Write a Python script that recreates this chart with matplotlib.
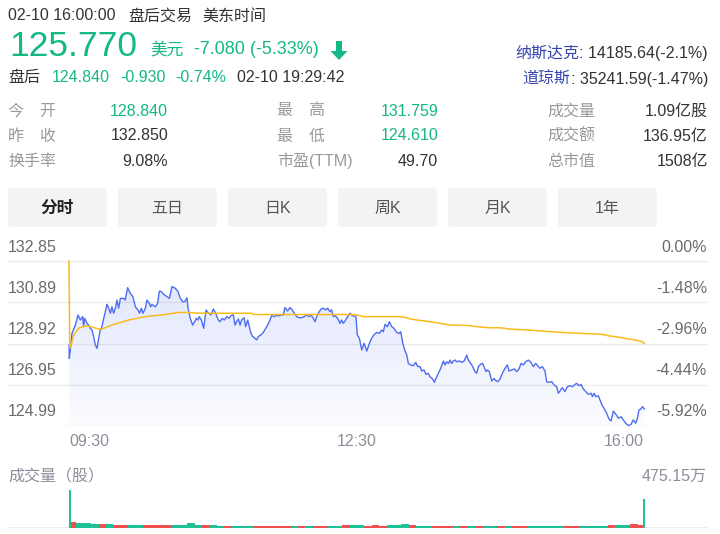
import numpy as np
import matplotlib
matplotlib.use('Agg')
import matplotlib.pyplot as plt
from matplotlib.transforms import Affine2D
from matplotlib.patches import FancyBboxPatch, Polygon

plt.rcParams['font.family'] = ['Liberation Sans', 'Noto Sans CJK SC', 'DejaVu Sans']

# ---------------- data ----------------
prev_close = 132.85
price_ticks = [132.85, 130.89, 128.92, 126.95, 124.99]
pct_ticks = ['0.00%', '-1.48%', '-2.96%', '-4.44%', '-5.92%']
time_labels = ['09:30', '12:30', '16:00']

price_min = [0, 0.2, 0.9, 2.0, 4.3, 6.1, 7.7, 9.3, 9.9, 10.6, 12.2, 13.3, 14.4, 15.6, 16.7, 17.8, 19.0, 20.1, 21.2, 22.3,
             23.5, 24.6, 25.7, 26.9, 28.0, 29.1, 30.2, 31.4, 32.5, 33.6, 34.8, 37.0, 38.1, 39.7, 41.5, 43.3, 44.9, 46.7, 47.8, 49.0,
             50.1, 51.7, 52.8, 54.4, 55.3, 56.2, 57.3, 58.5, 60.0, 61.2, 62.5, 64.1, 66.4, 68.0, 69.7, 72.0, 73.8, 75.4, 77.0, 78.3,
             79.9, 80.6, 82.1, 83.7, 85.1, 86.2, 87.3, 88.2, 89.6, 91.2, 92.8, 94.1,
             96.1, 97.7, 99.3, 101.1, 102.2, 103.8, 105.2, 106.8, 108.3, 109.7, 111.3, 112.4, 113.5, 114.7, 115.8, 116.9, 118.5, 119.6, 121.0, 122.1,
             123.2, 124.4, 125.9, 127.1, 128.2, 130.0, 131.6, 133.2, 134.5, 136.1, 137.2, 139.0, 140.6, 141.7, 143.5, 145.1, 146.2, 148.0, 149.6, 151.2,
             152.6, 154.1, 155.7, 157.5, 159.3, 160.9, 162.5, 163.9, 165.4, 166.6, 167.7, 168.8, 170.6, 172.2, 173.8, 175.1, 176.7, 177.8, 179.0, 180.1,
             181.9, 183.5, 184.6, 185.7, 187.3, 188.7, 190.3, 191.8,
             194.3, 195.2, 196.6, 198.2, 199.8, 201.6, 203.4, 204.9, 206.5, 208.3, 210.1, 211.7, 212.8, 214.0, 215.6, 216.9, 218.5, 220.1, 221.9, 223.7,
             224.6, 225.9, 227.5, 228.6, 229.8, 231.3, 233.2, 234.7, 236.1, 237.7, 238.8, 240.4, 241.7, 243.3, 244.4, 246.2, 247.4, 248.5, 250.1, 251.7,
             253.5, 254.6, 255.7, 256.9, 258.0, 259.1, 260.2, 261.4, 262.5, 264.3, 265.9, 267.5, 269.3, 270.4, 272.0, 273.3, 274.9, 276.0, 277.2, 278.7,
             280.1, 281.2, 282.4, 283.3, 284.6, 286.2, 287.8,
             288.5, 290.3, 291.8, 293.4, 295.2, 296.8, 297.9, 299.7, 301.5, 303.1, 304.7, 306.1, 307.6, 309.2, 311.0, 312.8, 314.4, 316.0, 317.3, 318.9,
             320.5, 322.3, 323.4, 325.0, 326.8, 328.6, 330.2, 331.3, 332.5, 334.0, 335.8, 337.4, 339.2, 340.8, 342.6, 343.7, 345.3, 346.7, 348.3, 349.8,
             351.6, 353.5, 354.4, 355.5, 356.6, 358.4, 359.5, 360.7, 362.5, 364.1, 365.6, 367.0, 368.6, 370.2, 372.0, 373.8, 375.3, 376.9, 378.7, 380.5,
             382.1, 383.7, 385.0, 385.9, 387.3, 388.2, 389.6]
price_val = [128.84, 128.21, 128.61, 129.40, 129.80, 130.28, 130.04, 130.20, 129.72, 130.12, 129.88, 129.80, 129.64, 129.56, 129.25, 128.85, 128.69, 129.17, 129.56, 129.72,
             130.12, 130.44, 130.79, 130.60, 130.36, 130.67, 130.36, 130.60, 130.99, 130.60, 131.07, 131.07, 130.99, 131.58, 131.31, 131.15, 130.67, 130.52, 130.36, 130.60,
             130.36, 130.60, 130.99, 130.83, 130.67, 130.79, 130.72, 130.67, 130.83, 131.42, 131.39, 131.26, 131.15, 131.07, 131.63, 131.55, 131.39, 131.07, 130.91, 130.91,
             131.10, 130.60, 130.12, 129.80, 129.96, 130.12, 130.04, 130.20, 130.04, 129.64, 130.52, 130.40,
             130.28, 130.56, 130.36, 130.04, 129.96, 130.12, 130.04, 130.20, 130.12, 130.25, 130.28, 129.80, 129.96, 130.09, 129.80, 130.04, 130.15, 129.72, 130.04, 129.72,
             129.40, 129.25, 129.17, 129.09, 129.25, 129.33, 129.45, 129.64, 129.80, 130.04, 130.25, 130.20, 130.28, 130.23, 130.28, 130.28, 130.63, 130.47, 130.63, 130.52,
             130.36, 130.20, 130.15, 130.15, 130.20, 130.28, 130.20, 130.28, 130.12, 129.96, 130.20, 130.36, 130.56, 130.60, 130.52, 130.60, 130.44, 130.52, 130.20, 130.25,
             130.12, 129.88, 130.04, 129.88, 130.04, 130.20, 130.36, 130.25,
             130.20, 129.33, 129.17, 128.61, 128.93, 128.56, 128.93, 129.17, 129.33, 129.45, 129.40, 129.56, 129.48, 129.83, 129.72, 129.96, 129.72, 129.64, 129.45, 129.40,
             129.48, 128.97, 128.56, 128.40, 127.97, 127.90, 127.86, 128.02, 127.82, 127.82, 127.61, 127.66, 127.45, 127.50, 127.34, 127.23, 127.07, 127.26, 127.50, 127.74,
             128.09, 127.90, 128.05, 127.97, 128.13, 127.97, 128.09, 128.13, 128.05, 128.09, 128.02, 128.09, 128.37, 128.13, 127.97, 127.82, 127.58, 127.50, 127.82, 127.93,
             127.97, 127.77, 127.58, 127.66, 127.58, 127.13, 127.26,
             127.18, 127.10, 127.23, 127.50, 127.74, 127.90, 127.61, 127.66, 127.71, 127.58, 127.71, 127.97, 127.90, 128.05, 128.13, 128.02, 127.82, 127.97, 127.86, 127.74,
             127.82, 127.61, 127.10, 127.07, 127.10, 126.94, 126.86, 126.55, 126.66, 126.82, 126.63, 126.86, 126.91, 126.86, 126.97, 127.02, 126.91, 126.97, 126.75, 126.63,
             126.50, 126.55, 126.39, 126.55, 126.39, 126.43, 126.23, 126.02, 125.80, 125.59, 125.32, 125.23, 125.70, 125.55, 125.36, 125.43, 125.28, 125.12, 125.01, 125.07,
             125.28, 125.12, 125.39, 125.75, 125.80, 125.91, 125.80]

avg_min = [0, 0.5, 1.5, 3.2, 6.5, 10.0, 13.3, 16.7, 20.1, 22.3, 29.1, 40.4, 51.7, 63.0, 74.3, 81.0, 85.5, 96.4, 123.7, 125.0,
           190.3, 194.8, 199.3, 224.1, 228.6, 230.9, 235.4, 244.4, 251.2, 258.0, 271.5, 276.0, 285.1, 291.8, 295.2, 297.5, 311.0, 326.8, 335.8, 347.1,
           360.7, 365.2, 374.2, 378.7, 383.2, 387.8, 389.6]
avg_val = [132.85, 128.69, 128.85, 129.33, 129.64, 129.75, 129.75, 129.68, 129.61, 129.61, 129.80, 130.04, 130.20, 130.28, 130.40, 130.40, 130.37, 130.36, 130.36, 130.30,
           130.30, 130.28, 130.20, 130.20, 130.15, 130.09, 130.04, 129.96, 129.88, 129.80, 129.77, 129.72, 129.67, 129.67, 129.64, 129.61, 129.56, 129.48, 129.44, 129.40,
           129.36, 129.29, 129.20, 129.13, 129.09, 129.01, 128.93]

# volume (万股): opening minute, closing minute, and 5-minute buckets (per-minute level)
vol_max_label = '475.15万'
vol_first = 475.15
vol_last = 365.0
vol_5min = [70, 65, 60, 55, 55, 50,
            40, 38, 40, 42, 38, 40,
            38, 42, 40, 38, 60, 38, 35,
            32, 28, 30, 26, 28, 30, 25,
            25, 22, 24, 28, 25, 26,
            24, 25, 26, 28, 30, 32, 40, 35,
            30, 32, 30, 35, 32, 50, 35,
            30, 28, 26, 25, 24,
            22, 20, 22, 20, 21, 22, 20, 19, 20, 22, 20, 21, 20, 22, 24, 22, 20, 22, 24, 26, 28,
            35, 38, 40, 45, 42]

stats_labels = [['今\u3000开', '昨\u3000收', '换手率'],
                ['最\u3000高', '最\u3000低', '市盈(TTM)'],
                ['成交量', '成交额', '总市值']]
stats_values = [['128.840', '132.850', '9.08%'],
                ['131.759', '124.610', '49.70'],
                ['1.09亿股', '136.95亿', '1508亿']]
tabs = ['分时', '五日', '日K', '周K', '月K', '1年']

# ---------------- style ----------------
GREEN = '#13b886'
DARK = '#333333'
GRAY = '#999999'
AXGRAY = '#6b6b6b'
BLUE = '#4d6ef0'
YELLOW = '#f8bb1c'
RED_BAR = '#f2504e'
GREEN_BAR = '#1fc196'
GRID = '#ebebeb'

W, H = 720, 534
fig = plt.figure(figsize=(W / 100, H / 100), dpi=100)
fig.patch.set_facecolor('white')
P = Affine2D().scale(1 / W, -1 / H).translate(0, 1) + fig.transFigure


def T(x, y, s, **kw):
    kw.setdefault('va', 'baseline')
    kw.setdefault('fontsize', 11.5)
    kw.setdefault('color', DARK)
    return fig.text(x, y, s, transform=P, **kw)


# header
T(8, 20.5, '02-10 16:00:00')
T(128, 20.5, '盘后交易')
T(202, 20.5, '美东时间')
T(9, 56, '125.770', fontsize=25.5, color=GREEN)
T(150, 54.5, '美元', fontsize=12, color=GREEN)
T(194, 54.5, '-7.080 (-5.33%)', fontsize=13, color=GREEN)
fig.patches.append(Polygon([(336, 41), (342, 41), (342, 51), (347.5, 51), (339, 60), (330.5, 51), (336, 51)],
                           closed=True, transform=P, facecolor=GREEN, edgecolor='none'))
T(8, 82, '盘后')
T(52, 82, '124.840', color=GREEN)
T(120, 82, '-0.930', color=GREEN)
T(175, 82, '-0.74%', color=GREEN)
T(237, 82, '02-10 19:29:42')

renderer = fig.canvas.get_renderer()
for yb, lab, num in [(58, '纳斯达克', ': 14185.64(-2.1%)'), (84, '道琼斯', ': 35241.59(-1.47%)')]:
    t = T(708, yb, num, ha='right')
    bb = t.get_window_extent(renderer)
    T(708 - bb.width, yb, lab, ha='right', color='#3847b0')

# stats
col_lab_x = [8, 277, 547]
col_val_x = [168, 438, 708]
row_y = [115.5, 140.5, 166]
for c in range(3):
    for r in range(3):
        T(col_lab_x[c], row_y[r], stats_labels[c][r], color=GRAY)
        v = stats_values[c][r]
        col = GREEN if (c == 0 and r == 0) or (c == 1 and r < 2) else DARK
        T(col_val_x[c], row_y[r], v, ha='right', color=col)

# tabs
for i, name in enumerate(tabs):
    x0 = 8 + i * 110
    fig.patches.append(FancyBboxPatch((x0 + 3, 191), 93, 33, boxstyle='round,pad=3,rounding_size=4',
                                      transform=P, facecolor='#f2f3f5', edgecolor='none'))
    T(x0 + 49.5, 208, name, ha='center', va='center', fontsize=12 if i == 0 else 11.5,
      fontweight='bold' if i == 0 else 'normal', color='#222222' if i == 0 else '#555555')

# ---------------- price chart ----------------
px_per_min = 576 / 390
x_left = -(69 - 8) / px_per_min
x_right = 390 + (708 - 645) / px_per_min
ax = fig.add_axes([8 / W, 1 - 426 / H, 700 / W, 165 / H])
ax.set_xlim(x_left, x_right)
ax.set_ylim(price_ticks[-1], price_ticks[0])
ax.axis('off')
for pt in price_ticks:
    ax.axhline(pt, color=GRID, lw=1.0, zorder=0)

pm = np.array(price_min)
pv = np.array(price_val)
poly = ax.fill_between(pm, pv, price_ticks[-1], facecolor='none', edgecolor='none')
grad = np.zeros((256, 1, 4))
base = np.array(matplotlib.colors.to_rgb(BLUE))
grad[:, 0, :3] = base
grad[:, 0, 3] = np.linspace(0.19, 0.02, 256)
im = ax.imshow(grad, extent=[0, 390, price_ticks[-1], price_ticks[0]], aspect='auto', origin='upper',
               zorder=1, interpolation='bilinear')
im.set_clip_path(poly.get_paths()[0], ax.transData)
ax.set_xlim(x_left, x_right)
ax.set_ylim(price_ticks[-1], price_ticks[0])

ax.plot(pm, pv, color=BLUE, lw=1.0, zorder=3, clip_on=False)
ax.plot(avg_min, avg_val, color=YELLOW, lw=1.1, zorder=4, clip_on=False)

for i, (pt, pc) in enumerate(zip(price_ticks, pct_ticks)):
    yb = 261 + i * 41.25 - 9.5
    T(8, yb, f'{pt:.2f}', color=AXGRAY)
    T(707, yb, pc, ha='right', color=AXGRAY)

T(69, 446, time_labels[0], color='#8a8f99')
T(357, 446, time_labels[1], ha='center', color='#8a8f99')
T(644, 446, time_labels[2], ha='right', color='#8a8f99')

# ---------------- volume ----------------
T(8, 481, '成交量（股）', color='#8a8f99')
T(707, 481, vol_max_label, ha='right', color='#8a8f99')
axv = fig.add_axes([8 / W, 1 - 528 / H, 700 / W, 38 / H])
axv.set_xlim(x_left, x_right)
axv.set_ylim(0, vol_first)
axv.axis('off')
axv.axhline(0, color=GRID, lw=1.2, zorder=0)

for i, v in enumerate(vol_5min):
    a, b = 5 * i, min(5 * i + 5, 389)
    up = np.interp(b, pm, pv) >= np.interp(a, pm, pv)
    axv.bar(a + 2.5, v, width=5, color=RED_BAR if up else GREEN_BAR, linewidth=0, zorder=2)
axv.bar(0.6, vol_first, width=1.1, color=GREEN_BAR, linewidth=0, zorder=3)
axv.bar(389.4, vol_last, width=1.1, color=GREEN_BAR, linewidth=0, zorder=3)

fig.savefig('out.png', dpi=100, facecolor='white')
